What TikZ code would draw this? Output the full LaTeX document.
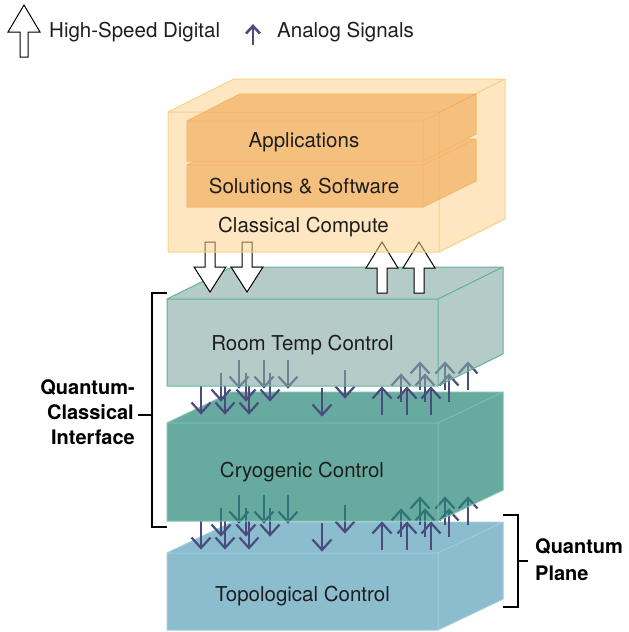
\documentclass[tikz,border=0pt]{standalone}
\usepackage{fontspec}
\setmainfont{TeX Gyre Heros}
\definecolor{txt}{HTML}{1E1E1E}
\definecolor{analogc}{HTML}{4A4C7E}
\definecolor{rtfill}{RGB}{132,168,162}
\definecolor{rtedge}{HTML}{5DB39F}
\definecolor{cryfill}{RGB}{39,134,118}
\definecolor{cryedge}{HTML}{7DBFB1}
\definecolor{topfill}{HTML}{8BBDCF}
\definecolor{topedge}{HTML}{A0CBDA}
\definecolor{outfill}{RGB}{251,205,129}
\definecolor{outedge}{HTML}{F8D08C}
\definecolor{infill}{RGB}{241,167,82}
\definecolor{inedge}{RGB}{238,150,55}

% box faces: x1 y1 x2 y2 dx dy style
\newcommand\mkbox[7]{%
  \fill[#7] (#1,#2) rectangle (#3,#4);
  \fill[#7] (#1,#2) -- (#1+#5,#2-#6) -- (#3+#5,#2-#6) -- (#3,#2) -- cycle;
  \fill[#7] (#3,#2) -- (#3+#5,#2-#6) -- (#3+#5,#4-#6) -- (#3,#4) -- cycle;
}
\newcommand\mkedges[7]{%
  \draw[#7] (#1,#2) rectangle (#3,#4)
    (#1,#2) -- (#1+#5,#2-#6) -- (#3+#5,#2-#6) -- (#3+#5,#4-#6) -- (#3,#4)
    (#3,#2) -- (#3+#5,#2-#6);
}
% analog arrow sets, offset #1
\newcommand\arrowset[1]{%
  \foreach \x/\t in {239/387,264/387,288/387,221/400,246/400,270/400,345/397,201/413,225/413,249/413,322/415}{
    \draw[analog] (\x,\t+#1-27) -- (\x,\t+#1);
    \draw[analog] (\x-9.5,\t+#1-10.5) -- (\x,\t+#1) -- (\x+9.5,\t+#1-10.5);
  }
  \foreach \x/\t in {420/363,445/363,468/363,401/375,425/375,449/375,382/388,407/388,431/388}{
    \draw[analog] (\x,\t+#1+27) -- (\x,\t+#1);
    \draw[analog] (\x-9.5,\t+#1+10.5) -- (\x,\t+#1) -- (\x+9.5,\t+#1+10.5);
  }
}
% hollow digital arrows: cx, tail y, head-base y, tip y, shaft half width
\newcommand\digarrow[5]{%
  \draw[digital] (#1-#5,#2) -- (#1-#5,#3) -- (#1-16,#3) -- (#1,#4) -- (#1+16,#3) -- (#1+#5,#3) -- (#1+#5,#2) -- cycle;
}

\begin{document}
\begin{tikzpicture}[x=1pt,y=-1pt,line join=miter,
  lbl/.style={font=\fontsize{20.5}{24}\selectfont, text=txt, inner sep=0pt, anchor=base},
  blbl/.style={font=\fontsize{20}{24}\selectfont\bfseries, text=black, inner sep=0pt},
  analog/.style={draw=analogc, line width=2.2pt},
  digital/.style={draw=black, fill=white, line width=1pt},
  brace/.style={draw=black, line width=1.2pt},
  topbox/.style={fill=topfill},
  topline/.style={draw=topedge, line width=1pt},
  crybox/.style={fill=cryfill, fill opacity=0.7},
  cryline/.style={draw=cryedge, line width=1pt},
  rtbox/.style={fill=rtfill, fill opacity=0.6},
  rtline/.style={draw=rtedge, line width=1pt},
  outbox/.style={fill=outfill, fill opacity=0.5},
  outline/.style={draw=outedge, line width=1pt},
  inbox/.style={fill=infill},
  inline/.style={draw=inedge, line width=1pt}]
\useasboundingbox (0,0) rectangle (629,632);

% Topological Control
\mkbox{167}{553}{438}{630}{65}{31}{topbox}
\mkedges{167}{553}{438}{630}{65}{31}{topline}
\node[lbl] (topo) at (302.5,601) {Topological Control};

% analog arrows between cryogenic and topological
\arrowset{135}

% Cryogenic Control
\mkbox{167}{423}{438}{521}{65}{31}{crybox}
\mkedges{167}{423}{438}{521}{65}{31}{cryline}
\node[lbl] (cryo) at (302,477) {Cryogenic Control};

% analog arrows between room temp and cryogenic
\arrowset{0}

% Room Temp Control
\mkbox{167}{299}{438}{386}{65}{32}{rtbox}
\mkedges{167}{299}{438}{386}{65}{32}{rtline}
\node[lbl] (room) at (302.5,350) {Room Temp Control};

% high-speed digital arrows
\digarrow{210}{242}{267}{292}{5}
\digarrow{247}{242}{267}{292}{5}
\digarrow{382}{293}{268}{242}{5}
\digarrow{419}{293}{268}{242}{5}

% Classical Compute
\mkbox{168}{112}{439}{252}{66}{33}{outbox}
\mkedges{168}{112}{439}{252}{66}{33}{outline}
\begin{scope}[transparency group, opacity=0.6]
\mkbox{187}{165}{423}{207}{53}{26}{inbox}
\mkedges{187}{165}{423}{207}{53}{26}{inline}
\mkbox{187}{121}{423}{161}{53}{27}{inbox}
\mkedges{187}{121}{423}{161}{53}{27}{inline}
\end{scope}
\node[lbl] (apps) at (304,147) {Applications};
\node[lbl] (sols) at (304,193) {Solutions \& Software};
\node[lbl] (clas) at (303.5,232) {Classical Compute};

% left bracket
\coordinate (lbt) at (152,293);
\coordinate (lbb) at (152,527);
\coordinate (lbm) at (152,415);
\draw[brace] (167,293) -- (lbt) -- (lbb) -- (167,527);
\draw[brace] (lbm) -- (138,415);
\node[blbl, anchor=base east] (qc1) at (135,394) {Quantum-};
\node[blbl, anchor=base east] (qc2) at (134,419) {Classical};
\node[blbl, anchor=base east] (qc3) at (135,444) {Interface};

% right bracket
\coordinate (rbt) at (518,515);
\coordinate (rbb) at (518,607);
\coordinate (rbm) at (518,561);
\draw[brace] (503,515) -- (rbt) -- (rbb) -- (503,607);
\draw[brace] (rbm) -- (528,561);
\node[blbl, anchor=base west] (qp1) at (535,553) {Quantum};
\node[blbl, anchor=base west] (qp2) at (535,580) {Plane};

% legend
\digarrow{24}{57}{32}{5}{4}
\node[lbl, anchor=base west] (legd) at (49,37) {High-Speed Digital};
\draw[analog, line width=2.6pt] (253,45) -- (253,26);
\draw[analog, line width=2.6pt] (246,33.5) -- (253,26) -- (260,33.5);
\node[lbl, anchor=base west] (lega) at (277,37) {Analog Signals};
\end{tikzpicture}
\end{document}
